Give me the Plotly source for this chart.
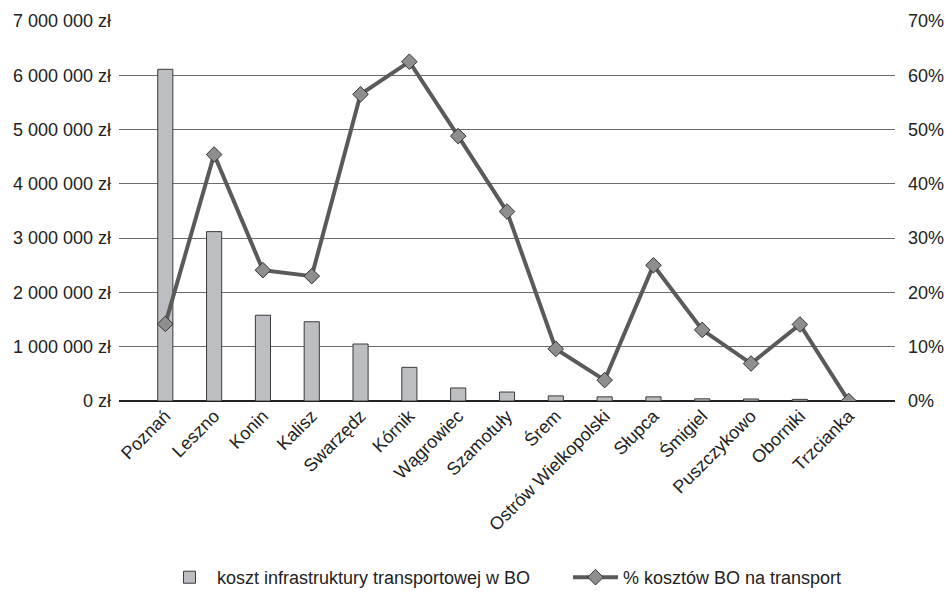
import plotly.graph_objects as go

cities = ["Poznań", "Leszno", "Konin", "Kalisz", "Swarzędz", "Kórnik", "Wągrowiec",
          "Szamotuły", "Śrem", "Ostrów Wielkopolski", "Słupca", "Śmigiel",
          "Puszczykowo", "Oborniki", "Trzcianka"]
transport_cost = [6110000, 3120000, 1580000, 1460000, 1050000, 620000, 240000,
                  165000, 94000, 76000, 76000, 40000, 37000, 30000, 0]
transport_share = [0.142, 0.454, 0.241, 0.230, 0.565, 0.625, 0.488,
                   0.349, 0.096, 0.0385, 0.250, 0.131, 0.069, 0.141, 0.0]

left_ticks = [0, 1000000, 2000000, 3000000, 4000000, 5000000, 6000000, 7000000]
left_labels = ["0 zł", "1 000 000 zł", "2 000 000 zł", "3 000 000 zł",
               "4 000 000 zł", "5 000 000 zł", "6 000 000 zł", "7 000 000 zł"]
right_ticks = [0, 0.1, 0.2, 0.3, 0.4, 0.5, 0.6, 0.7]
right_labels = ["0%", "10%", "20%", "30%", "40%", "50%", "60%", "70%"]

font = dict(family="Liberation Sans, Arial, sans-serif", size=18, color="#222222")

fig = go.Figure()
fig.add_trace(go.Bar(
    x=cities, y=transport_cost, name="koszt infrastruktury transportowej w BO",
    marker=dict(color="#bdbec1", line=dict(color="#3a3a3a", width=1)),
    width=0.31, yaxis="y", legendwidth=346,
))
fig.add_trace(go.Scatter(
    x=cities, y=transport_share, name="% kosztów BO na transport",
    mode="lines+markers", yaxis="y2", legendwidth=260,
    line=dict(color="#5a5a5a", width=4),
    marker=dict(symbol="diamond", size=12, color="#8e8e8e",
                line=dict(color="#333333", width=1)),
))

fig.update_layout(
    width=946, height=608,
    margin=dict(l=119, r=51, t=21, b=193),
    paper_bgcolor="white", plot_bgcolor="white",
    font=font, showlegend=True,
    xaxis=dict(tickangle=-45, showgrid=False, showline=False, ticks="",
               tickfont=font, automargin=False),
    yaxis=dict(range=[0, 7000000], tickvals=left_ticks, ticktext=left_labels,
               showgrid=True, gridcolor="#6c6c6c", gridwidth=1,
               zeroline=True, zerolinecolor="#222222", zerolinewidth=1.5,
               ticks="", ticklabelstandoff=7, tickfont=font, automargin=False),
    yaxis2=dict(range=[0, 0.7], tickvals=right_ticks, ticktext=right_labels,
                overlaying="y", side="right", showgrid=False, zeroline=False,
                ticks="", ticklabelstandoff=12, tickfont=font, automargin=False),
    legend=dict(orientation="h", x=0.0554, xanchor="left", y=-0.4645,
                yanchor="middle", font=font, traceorder="normal",
                itemwidth=45),
)

fig.write_html("out.html")
